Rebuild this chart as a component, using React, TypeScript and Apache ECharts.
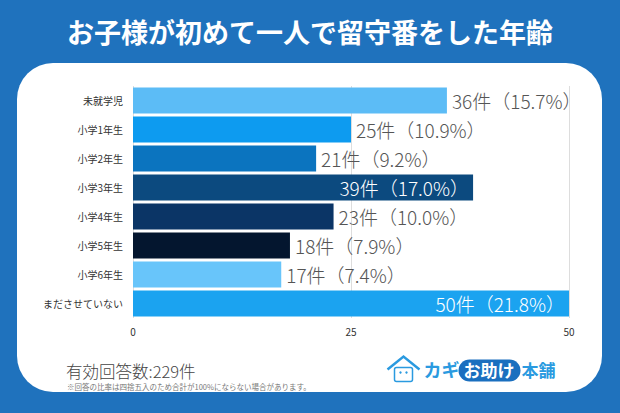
import React, { useEffect, useRef } from 'react'
import * as echarts from 'echarts'

const categories = ['未就学児', '小学1年生', '小学2年生', '小学3年生', '小学4年生', '小学5年生', '小学6年生', 'まださせていない']
const counts = [36, 25, 21, 39, 23, 18, 17, 50]
const percents = ['15.7', '10.9', '9.2', '17.0', '10.0', '7.9', '7.4', '21.8']
const barColors = ['#5cbcf6', '#0d9bf0', '#0b74bf', '#0c4a7f', '#0b3566', '#04162f', '#68c5fa', '#1ba3f0']
const xTicks = [0, 25, 50]
const total = 229

const FONT = '"Noto Sans CJK JP", "Noto Sans", sans-serif'

function App() {
  const chartRef = useRef(null)

  useEffect(() => {
    document.body.style.margin = '0'
    const chart = echarts.init(chartRef.current, null, { renderer: 'svg' })

    // category axis runs top to bottom, so reverse for ECharts
    const cats = [...categories].reverse()
    const data = counts
      .map((v, i) => ({
        value: v,
        itemStyle: { color: barColors[i] },
        label: v > 38
          ? { position: 'insideRight', color: '#ffffff', distance: 4 }
          : { position: 'right', color: '#555555', distance: 5 },
        pct: percents[i],
      }))
      .reverse()

    const options = {
      animation: false,
      textStyle: { fontFamily: FONT },
      graphic: [
        { type: 'rect', shape: { x: 0, y: 0, width: 620, height: 413 }, style: { fill: '#1f72bd' }, z: -10 },
        { type: 'rect', shape: { x: 17, y: 63, width: 585, height: 329, r: 36 }, style: { fill: '#ffffff' }, z: -9 },
        {
          type: 'text', left: 'center', top: 18,
          style: { text: 'お子様が初めて一人で留守番をした年齢', fill: '#ffffff', font: `bold 27px ${FONT}` },
        },
        {
          type: 'text', left: 66, top: 362,
          style: { text: `有効回答数:${total}件`, fill: '#444444', font: `300 16.5px ${FONT}`, lineHeight: 18 },
        },
        {
          type: 'text', left: 67, top: 382,
          style: { text: '※回答の比率は四捨五入のため合計が100%にならない場合があります。', fill: '#777777', font: `7.5px ${FONT}`, lineHeight: 9 },
        },
        // logo
        {
          type: 'group', left: 385, top: 354,
          children: [
            { type: 'polyline', shape: { points: [[2, 14], [18, 1], [34, 14]] }, style: { stroke: '#2a9ae0', lineWidth: 2.5, fill: 'none' } },
            { type: 'rect', shape: { x: 9, y: 12, width: 18, height: 14, r: 2 }, style: { stroke: '#2a9ae0', lineWidth: 1.5, fill: '#ffffff' } },
            { type: 'circle', shape: { cx: 15, cy: 17, r: 1.2 }, style: { fill: '#2a9ae0' } },
            { type: 'circle', shape: { cx: 21, cy: 17, r: 1.2 }, style: { fill: '#2a9ae0' } },
            { type: 'text', x: 38, y: 4, style: { text: 'カギ', fill: '#2a9ae0', font: `bold 18px ${FONT}` } },
            { type: 'rect', shape: { x: 73, y: 4, width: 62, height: 22, r: 11 }, style: { fill: '#1a6fbf' } },
            { type: 'text', x: 78, y: 5, style: { text: 'お助け', fill: '#ffffff', font: `bold 17px ${FONT}` } },
            { type: 'text', x: 136, y: 5, style: { text: '本舗', fill: '#2a9ae0', font: `bold 17px ${FONT}` } },
          ],
        },
      ],
      grid: { left: 133, right: 51, top: 86, bottom: 95, containLabel: false },
      xAxis: {
        type: 'value',
        min: 0,
        max: 50,
        interval: 25,
        axisLine: { show: false },
        axisTick: { show: false },
        axisLabel: { color: '#333333', fontSize: 10, margin: 8, formatter: (v: number) => (xTicks.includes(v) ? String(v) : '') },
        splitLine: { lineStyle: { color: '#dddddd', width: 1 } },
      },
      yAxis: {
        type: 'category',
        data: cats,
        axisLine: { show: false },
        axisTick: { show: false },
        axisLabel: { color: '#333333', fontSize: 10, margin: 10 },
      },
      series: [
        {
          type: 'bar',
          data,
          barCategoryGap: '10%',
          label: {
            show: true,
            fontSize: 19,
            fontWeight: 300,
            fontFamily: FONT,
            formatter: (p: any) => `${p.value}件（${p.data.pct}%）`,
          },
        },
      ],
    }

    chart.setOption(options)
    return () => {
      chart.dispose()
    }
  }, [])

  return <div ref={chartRef} style={{ width: '620px', height: '413px' }}></div>
}

export default App
